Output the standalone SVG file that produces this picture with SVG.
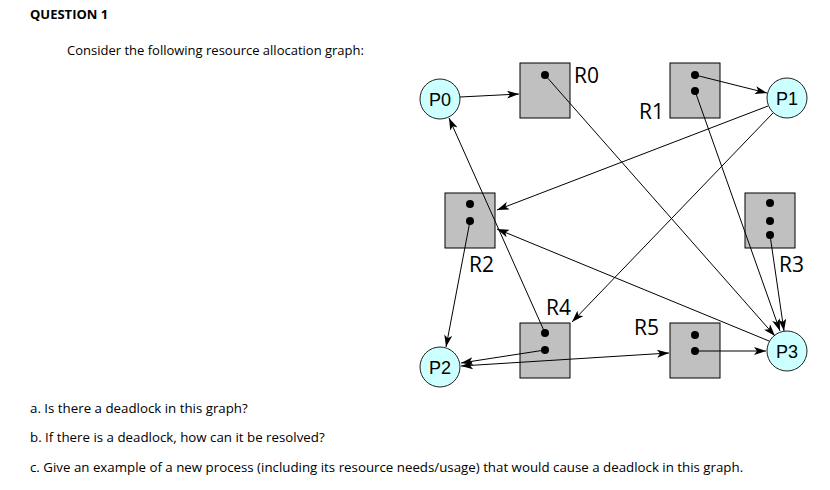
<svg xmlns="http://www.w3.org/2000/svg" width="830" height="490" viewBox="0 0 830 490">
<style>
.box{fill:#c0c0c0;stroke:#000;stroke-width:1}
.proc{fill:#ccffff;stroke:#222;stroke-width:1}
.dot{fill:#000}
.pl{font-family:"Liberation Sans",Arial,sans-serif;font-size:18px;fill:#000;text-anchor:middle}
.rl{font-family:"Open Sans","DejaVu Sans",sans-serif;font-size:21px;fill:#000}
.e{stroke:#000;stroke-width:1;fill:none}
.t{font-family:"Open Sans","Liberation Sans",sans-serif;font-size:13px;fill:#000}
.q{font-family:"Open Sans","Liberation Sans",sans-serif;font-size:13.3px;fill:#000}
</style>
<defs>
<marker id="ah" viewBox="0 0 12 8" refX="12" refY="4" markerWidth="12" markerHeight="8" markerUnits="userSpaceOnUse" orient="auto-start-reverse">
<path d="M0,0 L12,4 L0,8 L3,4 z" fill="#000"/>
</marker>
</defs>
<text class="t" x="30" y="19" font-weight="bold">QUESTION 1</text>
<text class="t" x="67" y="55">Consider the following resource allocation graph:</text>
<text class="q" x="30" y="413">a. Is there a deadlock in this graph?</text>
<text class="q" x="30" y="442">b. If there is a deadlock, how can it be resolved?</text>
<text class="q" x="30" y="472">c. Give an example of a new process (including its resource needs/usage) that would cause a deadlock in this graph.</text>
<g id="P0"><circle class="proc" cx="440" cy="99" r="20"/><text class="pl" x="440" y="105.5">P0</text></g>
<g id="P1"><circle class="proc" cx="787" cy="98" r="20"/><text class="pl" x="787" y="104.5">P1</text></g>
<g id="P2"><circle class="proc" cx="440" cy="367" r="20"/><text class="pl" x="440" y="373.5">P2</text></g>
<g id="P3"><circle class="proc" cx="787" cy="351" r="20"/><text class="pl" x="787" y="357.5">P3</text></g>
<g id="R0"><rect class="box" x="520" y="63" width="50" height="55"/><circle class="dot" cx="545" cy="75" r="4"/><text class="rl" x="574" y="83">R0</text></g>
<g id="R1"><rect class="box" x="670" y="63" width="50" height="55"/><circle class="dot" cx="695" cy="75" r="4"/><circle class="dot" cx="695" cy="91" r="4"/><text class="rl" x="639" y="119">R1</text></g>
<g id="R2"><rect class="box" x="445" y="193" width="50" height="55"/><circle class="dot" cx="470" cy="204" r="4"/><circle class="dot" cx="470" cy="221" r="4"/><text class="rl" x="469" y="272">R2</text></g>
<g id="R3"><rect class="box" x="745" y="193" width="50" height="55"/><circle class="dot" cx="770" cy="203" r="4"/><circle class="dot" cx="770" cy="221" r="4"/><circle class="dot" cx="770" cy="235" r="4"/><text class="rl" x="779" y="272">R3</text></g>
<g id="R4"><rect class="box" x="520" y="323" width="50" height="55"/><circle class="dot" cx="545" cy="333" r="4"/><circle class="dot" cx="545" cy="350" r="4"/><text class="rl" x="546" y="315">R4</text></g>
<g id="R5"><rect class="box" x="670" y="323" width="50" height="55"/><circle class="dot" cx="695" cy="335" r="4"/><circle class="dot" cx="695" cy="351" r="4"/><text class="rl" x="634" y="335">R5</text></g>
<g id="connectors">
<line class="e" x1="460" y1="97" x2="519" y2="94" marker-end="url(#ah)"/>
<line class="e" x1="545" y1="75" x2="775" y2="336" marker-end="url(#ah)"/>
<line class="e" x1="695" y1="75" x2="767" y2="93" marker-end="url(#ah)"/>
<line class="e" x1="695" y1="91" x2="780" y2="331" marker-end="url(#ah)"/>
<line class="e" x1="768" y1="106" x2="497" y2="210" marker-end="url(#ah)"/>
<line class="e" x1="773" y1="113" x2="572" y2="322" marker-end="url(#ah)"/>
<line class="e" x1="769" y1="341" x2="497" y2="229" marker-end="url(#ah)"/>
<line class="e" x1="470" y1="221" x2="446" y2="347" marker-end="url(#ah)"/>
<line class="e" x1="545" y1="333" x2="449" y2="118" marker-end="url(#ah)"/>
<line class="e" x1="545" y1="350" x2="461" y2="363" marker-end="url(#ah)"/>
<line class="e" x1="461" y1="366" x2="669" y2="353" marker-start="url(#ah)" marker-end="url(#ah)"/>
<line class="e" x1="695" y1="351" x2="766" y2="351" marker-end="url(#ah)"/>
<line class="e" x1="770" y1="235" x2="784" y2="331" marker-end="url(#ah)"/>
</g>
</svg>
